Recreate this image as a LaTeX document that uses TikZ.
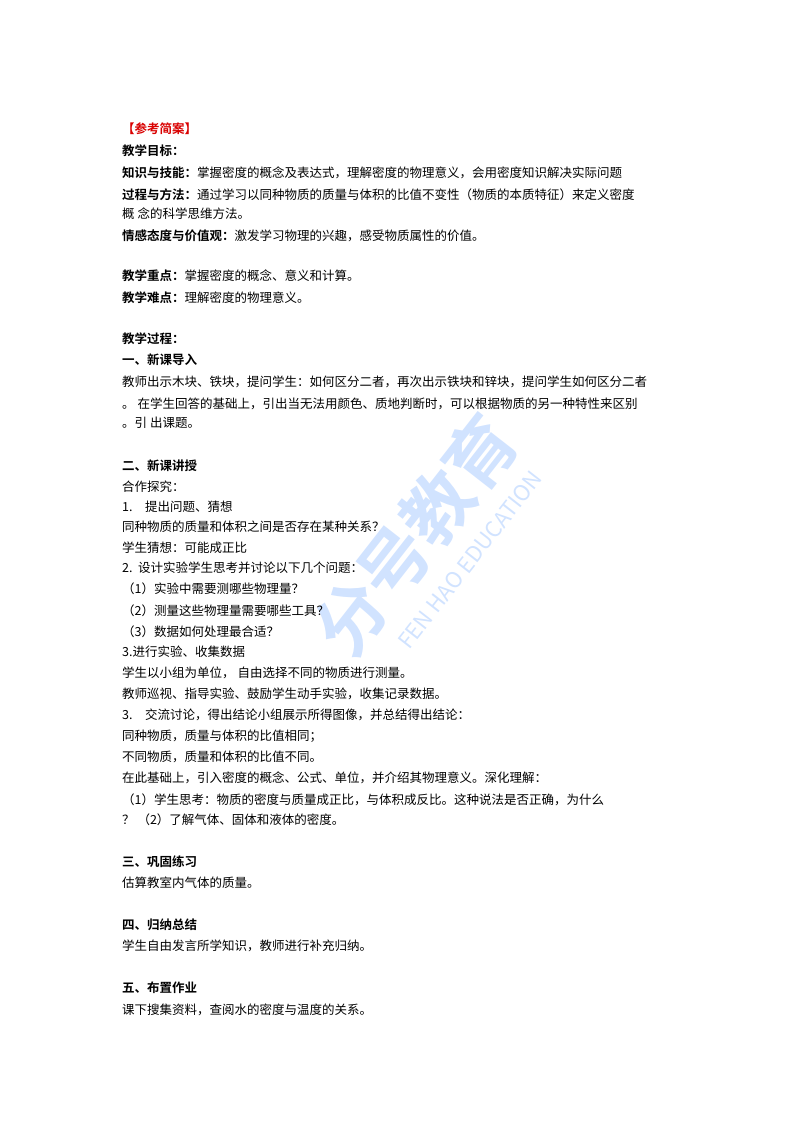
\documentclass[tikz,border=0pt]{standalone}
\usepackage{fontspec}
\setmainfont{Noto Sans CJK SC}
\newfontfamily\cjkb{Noto Sans CJK SC Bold}
\begin{document}
\begin{tikzpicture}[x=1pt,y=-1pt,
  txt/.style={anchor=west,inner sep=0pt,font=\fontsize{12.5}{14}\selectfont},
  hd/.style={txt,font=\fontsize{12.5}{14}\cjkb}]
\useasboundingbox[fill=white] (0,0) rectangle (800,1132);
\node[rotate=52,text=blue!60!cyan,opacity=0.18,font=\fontsize{70}{70}\cjkb] (wm) at (415,535) {分号教育};
\node[rotate=52,text=blue!60!cyan,opacity=0.18,font=\fontsize{22}{22}\selectfont] (wm2) at (470,560) {FEN HAO EDUCATION};
\node[hd,text=red!85!black] (a1) at (122,129) {【参考简案】};
\node[hd] (a2) at (122,151) {教学目标：};
\node[txt] (a3) at (122,173) {{\cjkb 知识与技能：}掌握密度的概念及表达式，理解密度的物理意义，会用密度知识解决实际问题};
\node[txt] (a4) at (122,195) {{\cjkb 过程与方法：}通过学习以同种物质的质量与体积的比值不变性（物质的本质特征）来定义密度};
\node[txt] (a5) at (122,214) {概\ 念的科学思维方法。};
\node[txt] (a6) at (122,236) {{\cjkb 情感态度与价值观：}激发学习物理的兴趣，感受物质属性的价值。};
\node[txt] (a7) at (122,276) {{\cjkb 教学重点：}掌握密度的概念、意义和计算。};
\node[txt] (a8) at (122,298) {{\cjkb 教学难点：}理解密度的物理意义。};
\node[hd] (b1) at (122,339) {教学过程：};
\node[hd] (b2) at (122,360) {一、新课导入};
\node[txt] (b3) at (122,382) {教师出示木块、铁块，提问学生：如何区分二者，再次出示铁块和锌块，提问学生如何区分二者};
\node[txt] (b4) at (122,404) {。\ 在学生回答的基础上，引出当无法用颜色、质地判断时，可以根据物质的另一种特性来区别};
\node[txt] (b5) at (122,423) {。引\ 出课题。};
\node[hd] (c1) at (122,466) {二、新课讲授};
\node[txt] (c2) at (122,487) {合作探究：};
\node[txt] (c3) at (122,507) {1.\quad 提出问题、猜想};
\node[txt] (c4) at (122,527) {同种物质的质量和体积之间是否存在某种关系？};
\node[txt] (c5) at (122,548) {学生猜想：可能成正比};
\node[txt] (c6) at (122,568) {2.\ \ 设计实验学生思考并讨论以下几个问题：};
\node[txt] (c7) at (122,589) {（1）实验中需要测哪些物理量？};
\node[txt] (c8) at (122,611) {（2）测量这些物理量需要哪些工具？};
\node[txt] (c9) at (122,632) {（3）数据如何处理最合适？};
\node[txt] (c10) at (122,652) {3.进行实验、收集数据};
\node[txt] (c11) at (122,673) {学生以小组为单位，\ 自由选择不同的物质进行测量。};
\node[txt] (c12) at (122,694) {教师巡视、指导实验、鼓励学生动手实验，收集记录数据。};
\node[txt] (c13) at (122,715) {3.\quad 交流讨论，得出结论小组展示所得图像，并总结得出结论：};
\node[txt] (c14) at (122,736) {同种物质，质量与体积的比值相同；};
\node[txt] (c15) at (122,757) {不同物质，质量和体积的比值不同。};
\node[txt] (c16) at (122,778) {在此基础上，引入密度的概念、公式、单位，并介绍其物理意义。深化理解：};
\node[txt] (c17) at (122,800) {（1）学生思考：物质的密度与质量成正比，与体积成反比。这种说法是否正确，为什么};
\node[txt] (c18) at (122,820) {？\ （2）了解气体、固体和液体的密度。};
\node[hd] (d1) at (122,862) {三、巩固练习};
\node[txt] (d2) at (122,883) {估算教室内气体的质量。};
\node[hd] (e1) at (122,925) {四、归纳总结};
\node[txt] (e2) at (122,946) {学生自由发言所学知识，教师进行补充归纳。};
\node[hd] (f1) at (122,988) {五、布置作业};
\node[txt] (f2) at (122,1010) {课下搜集资料，查阅水的密度与温度的关系。};
\end{tikzpicture}
\end{document}
